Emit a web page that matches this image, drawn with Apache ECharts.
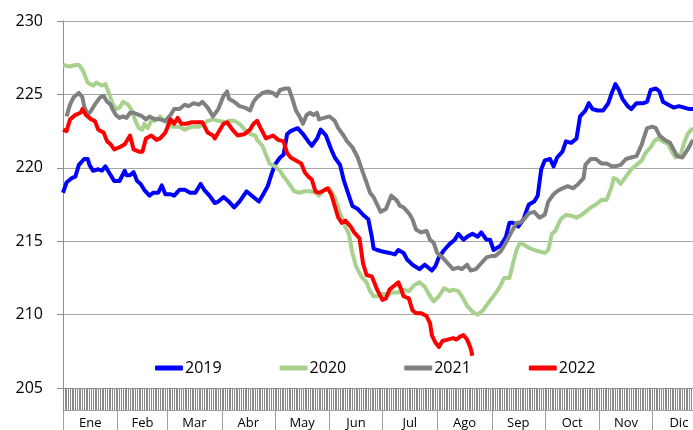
<!DOCTYPE html>
<html lang="es">

<head>
  <meta charset="UTF-8">
  <title>Serie diaria 2019-2022</title>
  <script src="https://cdn.jsdelivr.net/npm/echarts@6.0.0/dist/echarts.min.js"></script>
  <style>
    html,
    body {
      height: 100%;
      margin: 0;
      padding: 0;
      background-color: #fff;
    }

    #chart {
      width: 693px;
      height: 430px;
    }
  </style>
</head>

<body>
  <div id="chart"></div>
  <script>
    // meses (etiquetas), inicio de cada mes y punto medio (dia del año)
    const months = ['Ene', 'Feb', 'Mar', 'Abr', 'May', 'Jun', 'Jul', 'Ago', 'Sep', 'Oct', 'Nov', 'Dic'];
    const monthStarts = [0, 31, 59, 90, 120, 151, 181, 212, 243, 273, 304, 334];
    const monthMids = [15.5, 45, 74.5, 105, 135.5, 166, 196.5, 227.5, 258, 288.5, 319, 349];
    const lastDay = 357;

    // [dia del año, valor]
    const s2019 = [[0, 218.3], [2, 219.0], [5, 219.3], [7, 219.4], [9, 220.2], [12, 220.6], [14, 220.6], [15, 220.2], [17, 219.8], [20, 219.9], [22, 219.8], [24, 220.1], [26, 219.7], [29, 219.1], [32, 219.1], [35, 219.8], [36, 219.5], [38, 219.5], [40, 219.7], [42, 219.1], [44, 218.9], [46, 218.5], [49, 218.1], [51, 218.3], [54, 218.3], [56, 218.8], [58, 218.2], [61, 218.2], [63, 218.1], [66, 218.5], [69, 218.5], [72, 218.3], [75, 218.3], [78, 218.9], [80, 218.5], [83, 218.1], [86, 217.6], [88, 217.7], [91, 218.0], [94, 217.7], [97, 217.3], [100, 217.7], [104, 218.4], [107, 218.1], [111, 217.7], [113, 218.1], [116, 218.75], [118, 219.5], [120, 220.2], [123, 220.7], [125, 220.9], [127, 222.3], [129, 222.5], [133, 222.7], [136, 222.3], [139, 221.8], [141, 221.5], [144, 222.0], [146, 222.6], [149, 222.2], [152, 221.25], [154, 220.7], [157, 220.2], [159, 219.2], [162, 218.1], [164, 217.4], [167, 217.2], [170, 216.8], [173, 216.5], [175, 215.3], [176, 214.5], [178, 214.4], [181, 214.3], [185, 214.2], [188, 214.1], [190, 214.4], [193, 214.2], [195, 213.75], [198, 213.4], [202, 213.1], [205, 213.4], [209, 213.0], [211, 213.3], [213, 213.9], [216, 214.4], [219, 214.8], [222, 215.1], [224, 215.5], [227, 215.1], [229, 215.3], [232, 215.5], [235, 215.3], [237, 215.6], [240, 215.1], [242, 215.1], [244, 214.4], [245, 214.3], [248, 214.7], [251, 215.3], [253, 216.25], [255, 216.25], [258, 216.0], [261, 216.5], [263, 217.2], [264, 217.5], [267, 217.7], [269, 218.1], [271, 219.9], [273, 220.5], [276, 220.6], [278, 220.1], [280, 220.7], [283, 221.1], [285, 221.8], [288, 221.7], [291, 222.0], [293, 223.5], [296, 223.9], [298, 224.4], [300, 224.0], [303, 223.9], [306, 223.9], [309, 224.4], [311, 225.1], [313, 225.7], [315, 225.3], [317, 224.7], [320, 224.2], [322, 224.0], [325, 224.4], [329, 224.4], [331, 224.5], [333, 225.3], [336, 225.4], [338, 225.2], [340, 224.5], [343, 224.3], [346, 224.1], [349, 224.2], [352, 224.1], [355, 224.0], [357, 224.0]];

    const s2020 = [[0, 227.0], [4, 226.9], [7, 227.0], [9, 227.0], [11, 226.7], [13, 226.1], [14, 225.8], [17, 225.6], [19, 225.8], [22, 225.6], [24, 225.7], [26, 225.1], [28, 224.4], [30, 224.0], [32, 224.1], [34, 224.5], [37, 224.3], [39, 223.9], [41, 223.2], [43, 222.7], [45, 222.6], [46, 223.0], [48, 222.7], [50, 223.2], [52, 223.2], [55, 223.5], [57, 223.2], [60, 223.0], [62, 222.8], [66, 222.8], [69, 222.6], [73, 222.8], [77, 222.8], [80, 223.0], [82, 223.2], [85, 223.3], [88, 223.2], [92, 223.1], [94, 223.2], [97, 223.2], [100, 223.0], [103, 222.6], [106, 222.3], [109, 222.2], [110, 221.9], [113, 221.5], [115, 220.9], [117, 220.3], [120, 220.1], [123, 219.8], [125, 219.4], [127, 219.1], [129, 218.75], [131, 218.4], [134, 218.3], [137, 218.4], [140, 218.4], [143, 218.3], [145, 218.1], [148, 218.5], [151, 218.6], [154, 218.0], [157, 216.9], [160, 216.0], [162, 215.5], [164, 214.2], [166, 213.3], [169, 212.6], [172, 212.2], [174, 211.6], [176, 211.25], [178, 211.25], [181, 211.4], [184, 211.4], [187, 211.5], [190, 211.5], [193, 211.7], [196, 211.6], [199, 212.0], [202, 212.2], [205, 211.9], [208, 211.25], [210, 210.9], [213, 211.25], [216, 211.8], [219, 211.6], [221, 211.7], [224, 211.6], [226, 211.25], [229, 210.6], [232, 210.2], [235, 210.0], [238, 210.3], [241, 210.8], [243, 211.1], [246, 211.6], [248, 212.0], [250, 212.5], [253, 212.5], [255, 213.5], [257, 214.4], [259, 214.9], [262, 214.7], [264, 214.55], [267, 214.4], [270, 214.3], [273, 214.2], [275, 214.4], [277, 215.5], [279, 215.7], [282, 216.5], [285, 216.8], [289, 216.7], [291, 216.6], [294, 216.8], [296, 217.0], [299, 217.3], [302, 217.5], [305, 217.8], [308, 217.8], [311, 218.75], [312, 219.3], [314, 219.2], [316, 218.9], [319, 219.4], [322, 219.9], [325, 220.2], [328, 220.5], [330, 221.0], [333, 221.4], [335, 221.8], [337, 222.0], [340, 221.8], [343, 221.6], [345, 221.1], [347, 220.7], [350, 220.9], [352, 221.7], [354, 222.3], [356, 222.6], [357, 222.7]];

    const s2021 = [[2, 223.5], [4, 224.3], [6, 224.8], [9, 225.1], [11, 224.8], [12, 224.2], [14, 223.6], [16, 223.9], [18, 224.3], [21, 224.8], [23, 224.9], [25, 224.5], [27, 224.3], [28, 224.0], [30, 223.6], [32, 223.4], [34, 223.5], [36, 223.4], [38, 223.75], [40, 223.75], [43, 223.6], [45, 223.5], [47, 223.3], [49, 223.5], [52, 223.3], [55, 223.3], [58, 223.2], [61, 223.6], [63, 224.0], [66, 224.0], [69, 224.3], [71, 224.2], [74, 224.4], [77, 224.3], [79, 224.5], [82, 224.1], [85, 223.5], [88, 224.0], [91, 224.9], [93, 225.2], [94, 224.7], [97, 224.5], [100, 224.2], [103, 224.1], [106, 223.9], [108, 224.5], [110, 224.8], [113, 225.1], [116, 225.2], [119, 225.1], [121, 224.9], [123, 225.3], [126, 225.4], [128, 225.4], [130, 224.7], [132, 223.9], [134, 223.5], [136, 223.0], [138, 223.6], [140, 223.75], [142, 223.6], [144, 223.75], [145, 223.3], [148, 223.4], [151, 223.5], [154, 223.2], [156, 222.7], [159, 222.2], [161, 221.8], [164, 221.4], [167, 220.7], [169, 220.0], [172, 219.0], [174, 218.3], [176, 218.0], [178, 217.5], [180, 217.0], [183, 217.2], [186, 218.1], [189, 217.8], [191, 217.4], [193, 217.3], [196, 216.9], [198, 216.5], [200, 215.8], [203, 215.6], [206, 215.7], [208, 215.1], [210, 214.9], [212, 214.2], [215, 213.9], [218, 213.5], [221, 213.1], [224, 213.2], [226, 213.1], [229, 213.4], [231, 213.0], [234, 213.1], [237, 213.5], [240, 213.9], [243, 214.0], [245, 214.0], [248, 214.3], [251, 214.9], [254, 215.6], [257, 216.25], [259, 216.25], [262, 216.6], [264, 216.9], [267, 217.0], [270, 216.6], [273, 216.8], [275, 217.7], [278, 218.2], [280, 218.4], [283, 218.6], [286, 218.75], [289, 218.6], [292, 218.9], [295, 219.3], [296, 220.2], [299, 220.6], [302, 220.6], [305, 220.3], [308, 220.3], [311, 220.1], [313, 220.1], [316, 220.2], [319, 220.6], [322, 220.7], [325, 220.8], [328, 221.6], [329, 222.0], [331, 222.7], [334, 222.8], [336, 222.7], [338, 222.2], [341, 221.9], [344, 221.7], [346, 221.25], [348, 220.8], [351, 220.7], [354, 221.25], [356, 221.7], [357, 221.9]];

    const s2022 = [[0, 222.6], [2, 222.5], [4, 223.3], [7, 223.6], [10, 223.75], [11, 224.0], [13, 223.6], [16, 223.3], [18, 223.2], [20, 222.6], [23, 222.4], [25, 221.8], [27, 221.6], [29, 221.25], [32, 221.4], [35, 221.6], [38, 222.2], [40, 221.25], [43, 221.1], [45, 221.1], [47, 222.0], [50, 222.2], [53, 221.9], [55, 222.0], [58, 222.4], [61, 223.3], [63, 223.0], [65, 223.4], [67, 223.0], [70, 223.0], [73, 223.1], [76, 223.1], [79, 223.1], [82, 222.4], [85, 222.2], [86, 222.0], [88, 222.4], [91, 223.0], [93, 223.1], [96, 222.6], [99, 222.2], [103, 222.3], [106, 222.6], [108, 223.0], [110, 223.2], [112, 222.7], [115, 222.0], [119, 222.2], [122, 221.9], [125, 221.8], [127, 221.0], [129, 220.7], [132, 220.5], [135, 220.3], [137, 219.7], [139, 219.4], [141, 219.2], [143, 218.4], [145, 218.3], [147, 218.4], [150, 218.6], [152, 218.2], [154, 217.4], [156, 216.6], [158, 216.25], [160, 216.4], [163, 216.0], [165, 215.6], [168, 215.2], [170, 213.5], [172, 212.7], [175, 212.6], [176, 212.3], [178, 211.7], [181, 211.0], [183, 211.1], [185, 211.7], [188, 212.0], [190, 212.2], [192, 211.6], [193, 211.25], [196, 211.1], [198, 210.3], [200, 210.1], [203, 210.1], [206, 209.9], [208, 209.4], [209, 208.6], [211, 208.1], [213, 207.8], [215, 208.2], [218, 208.3], [221, 208.4], [223, 208.3], [225, 208.5], [227, 208.6], [229, 208.3], [231, 207.7], [232, 207.2]];

    const names = ['2019', '2020', '2021', '2022'];
    const colors = ['#0000ff', '#a9d18e', '#808080', '#ff0000'];
    const seriesData = [s2019, s2020, s2021, s2022];

    const font = 'Open Sans';
    const chart = echarts.init(document.getElementById('chart'));

    const option = {
      animation: false,
      grid: { left: 63, right: 0, top: 21, bottom: 42 },
      legend: {
        data: names,
        left: 155,
        top: 360,
        padding: 0,
        icon: 'roundRect',
        itemWidth: 28,
        itemHeight: 5,
        itemGap: 58,
        textStyle: { fontFamily: font, fontSize: 16, color: '#000', padding: [0, 0, 0, -3] }
      },
      xAxis: [{
        // banda de marcas diarias
        type: 'value',
        min: 0,
        max: lastDay,
        interval: 1,
        axisLine: { show: true, lineStyle: { color: '#909090' } },
        axisTick: { show: true, length: 22, lineStyle: { color: '#8a8a8a', width: 1 } },
        axisLabel: { show: false },
        splitLine: { show: false }
      }, {
        // meses
        type: 'value',
        min: 0,
        max: lastDay,
        position: 'bottom',
        offset: 22,
        axisLine: { show: true, lineStyle: { color: '#a0a0a0' } },
        axisTick: {
          show: true,
          length: 20,
          customValues: monthStarts,
          lineStyle: { color: '#a0a0a0' }
        },
        axisLabel: {
          customValues: monthMids,
          margin: 7,
          fontFamily: font,
          fontSize: 13,
          color: '#000',
          formatter: v => months[monthMids.indexOf(v)]
        },
        splitLine: { show: false }
      }],
      yAxis: {
        type: 'value',
        min: 205,
        max: 230,
        interval: 5,
        axisLine: { show: true, lineStyle: { color: '#909090' } },
        axisTick: { show: true, length: 6, lineStyle: { color: '#909090' } },
        axisLabel: { margin: 20, fontFamily: font, fontSize: 16, color: '#000' },
        splitLine: { show: true, lineStyle: { color: '#a6a6a6', width: 1 } }
      },
      series: names.map((n, i) => ({
        name: n,
        type: 'line',
        data: seriesData[i],
        showSymbol: false,
        symbol: 'none',
        color: colors[i],
        lineStyle: { width: 4, color: colors[i], join: 'round' }
      }))
    };

    chart.setOption(option);
  </script>
</body>

</html>
